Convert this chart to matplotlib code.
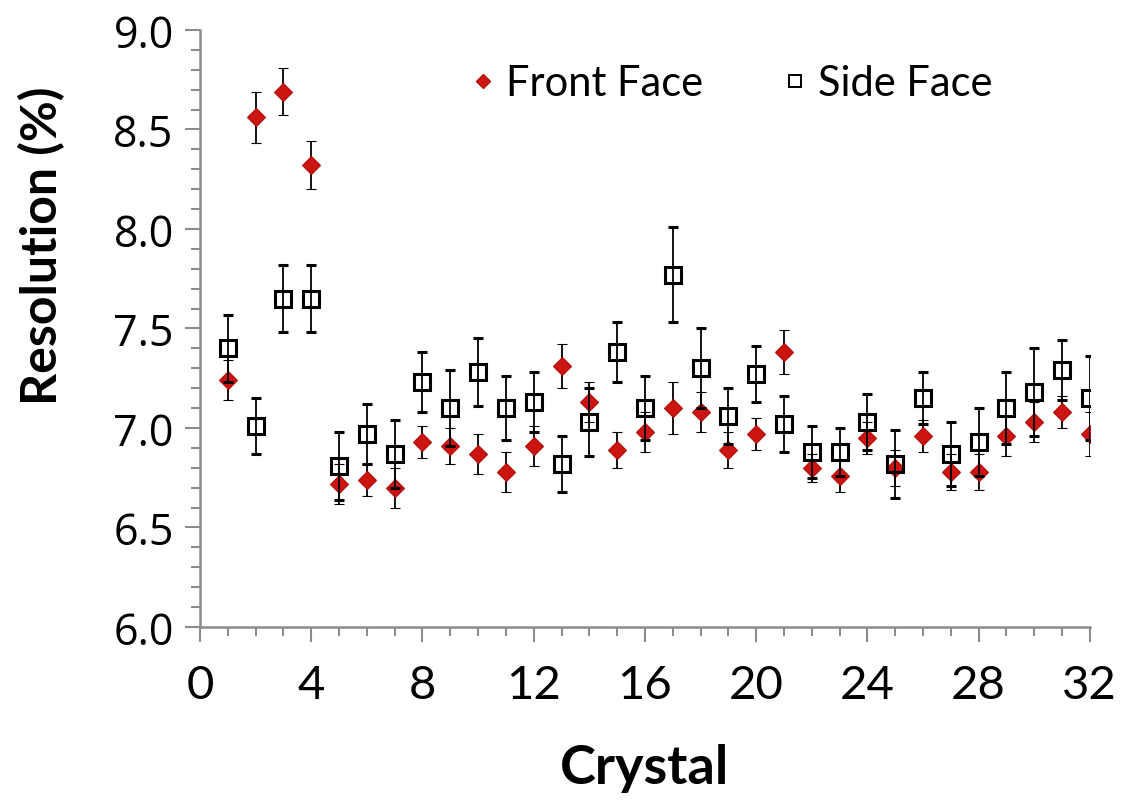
import numpy as np
import matplotlib
matplotlib.use("Agg")
import matplotlib.pyplot as plt
from matplotlib.ticker import MultipleLocator, FormatStrFormatter
from matplotlib.lines import Line2D

plt.rcParams['font.family'] = ['Lato', 'DejaVu Sans']

# crystal index and measured energy resolution (%) with uncertainties
crystal = np.arange(1, 33)
front = [7.24, 8.56, 8.69, 8.32, 6.72, 6.74, 6.70, 6.93, 6.91, 6.87, 6.78, 6.91,
         7.31, 7.13, 6.89, 6.98, 7.10, 7.08, 6.89, 6.97, 7.38, 6.80, 6.76, 6.95,
         6.80, 6.96, 6.78, 6.78, 6.96, 7.03, 7.08, 6.97]
front_err = [0.10, 0.13, 0.12, 0.12, 0.10, 0.08, 0.10, 0.08, 0.09, 0.10, 0.10, 0.10,
             0.11, 0.10, 0.09, 0.10, 0.13, 0.10, 0.09, 0.08, 0.11, 0.07, 0.08, 0.08,
             0.09, 0.08, 0.09, 0.09, 0.10, 0.10, 0.08, 0.11]
side = [7.40, 7.01, 7.65, 7.65, 6.81, 6.97, 6.87, 7.23, 7.10, 7.28, 7.10, 7.13,
        6.82, 7.03, 7.38, 7.10, 7.77, 7.30, 7.06, 7.27, 7.02, 6.88, 6.88, 7.03,
        6.82, 7.15, 6.87, 6.93, 7.10, 7.18, 7.29, 7.15]
side_err = [0.17, 0.14, 0.17, 0.17, 0.17, 0.15, 0.17, 0.15, 0.19, 0.17, 0.16, 0.15,
            0.14, 0.17, 0.15, 0.16, 0.24, 0.20, 0.14, 0.14, 0.14, 0.13, 0.12, 0.14,
            0.17, 0.13, 0.16, 0.17, 0.18, 0.22, 0.15, 0.21]

red = '#cc1410'

fig = plt.figure(figsize=(11.25, 8.03), dpi=100)
ax = fig.add_axes([0.1778, 0.218, 0.791, 0.7435])

ax.errorbar(crystal, front, yerr=front_err, fmt='D', ms=9.5, color=red,
            mec='#b01008', mew=0.8, ecolor='black', elinewidth=1.3, capsize=3.5,
            capthick=1.3, label='Front Face', zorder=3)
ax.errorbar(crystal, side, yerr=side_err, fmt='s', ms=12, mfc='none',
            mec='black', mew=2.2, ecolor='black', elinewidth=1.3, capsize=3.5,
            capthick=1.3, label='Side Face', zorder=4)

ax.set_xlim(0, 32)
ax.set_ylim(6.0, 9.0)
ax.xaxis.set_major_locator(MultipleLocator(4))
ax.xaxis.set_minor_locator(MultipleLocator(1))
ax.yaxis.set_major_locator(MultipleLocator(0.5))
ax.yaxis.set_minor_locator(MultipleLocator(0.1))
ax.yaxis.set_major_formatter(FormatStrFormatter('%.1f'))

for s in ['top', 'right']:
    ax.spines[s].set_visible(False)
for s in ['left', 'bottom']:
    ax.spines[s].set_color('#8c8c8c')
    ax.spines[s].set_linewidth(1.8)

ax.tick_params(which='major', length=11, width=1.5, color='#8c8c8c',
               labelsize=33, pad=8)
ax.tick_params(which='minor', length=6.5, width=1.5, color='#8c8c8c')
ax.tick_params(axis='x', pad=16, labelsize=34)
for t in ax.get_yticklabels():
    t.set_fontfamily(['Open Sans', 'DejaVu Sans'])
    t.set_fontsize(31)

ax.set_xlabel('Crystal', fontsize=39, fontweight='bold', labelpad=26)
ax.set_ylabel('Resolution (%)', fontsize=36, fontweight='bold')
ax.yaxis.set_label_coords(-0.178, 0.64)
ax.yaxis.label.set_va('center')

h = [Line2D([], [], ls='none', marker='D', ms=7.5, color=red, mec='#b01008'),
     Line2D([], [], ls='none', marker='s', ms=8.5, mfc='none', mec='black', mew=1.4)]
ax.legend(h, ['Front Face', 'Side Face'], loc='upper center',
          bbox_to_anchor=(0.597, 1.005), ncol=2, frameon=False, fontsize=30,
          handlelength=0.6, handletextpad=0.25, columnspacing=1.9)

fig.savefig('out.png', dpi=100)
